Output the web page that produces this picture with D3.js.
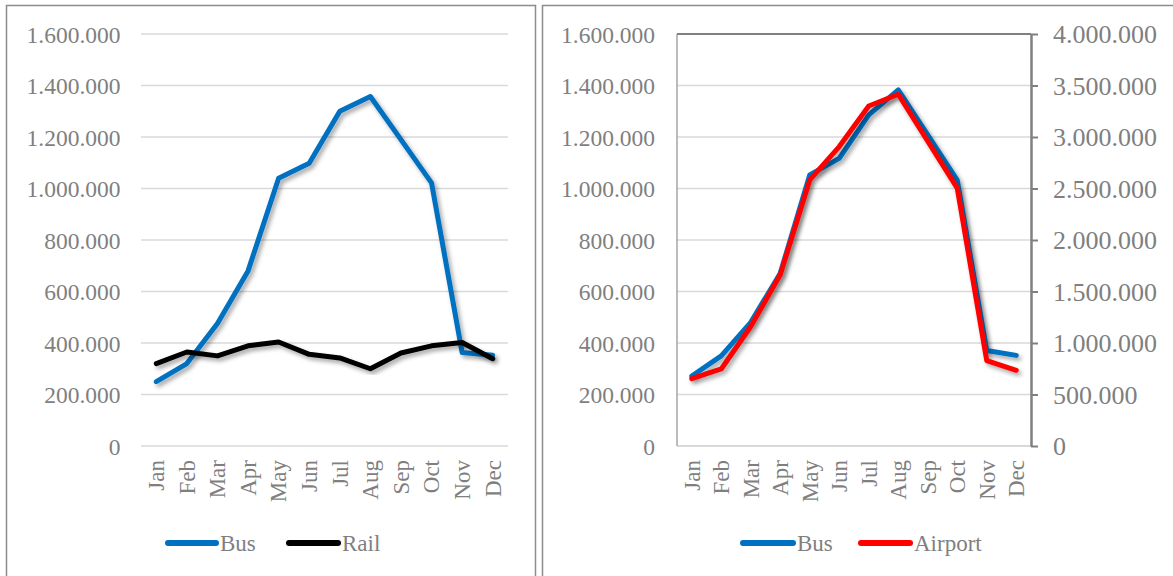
<!DOCTYPE html>
<html>
<head>
<meta charset="utf-8">
<script src="https://cdn.jsdelivr.net/npm/d3@7"></script>
<style>
  html, body { margin: 0; padding: 0; background: #fff; }
  svg { display: block; }
  text { font-family: "Liberation Serif", "Times New Roman", serif; fill: #7f7f7f; }
</style>
</head>
<body>
<svg id="chart" width="1173" height="576"></svg>
<script>
// Monthly passenger figures
const months = ["Jan", "Feb", "Mar", "Apr", "May", "Jun", "Jul", "Aug", "Sep", "Oct", "Nov", "Dec"];

// Left panel: bus vs rail
const busLeft = [250000, 320000, 476000, 680000, 1040000, 1098000, 1300000, 1357000, 1190000, 1022000, 363000, 352000];
const rail = [320000, 365000, 350000, 389000, 404000, 356000, 342000, 300000, 361000, 389000, 402000, 339000];

// Right panel: bus (left axis) vs airport (right axis)
const busRight = [272000, 350000, 480000, 671000, 1053000, 1117000, 1286000, 1383000, 1208000, 1033000, 371000, 352000];
const airport = [654000, 748000, 1160000, 1662000, 2583000, 2907000, 3301000, 3415000, 2959000, 2503000, 830000, 735000];

// Axis ticks
const leftTicks = [0, 200000, 400000, 600000, 800000, 1000000, 1200000, 1400000, 1600000];
const rightTicks = [0, 500000, 1000000, 1500000, 2000000, 2500000, 3000000, 3500000, 4000000];

const COLORS = { bus: "#0070C0", rail: "#000000", airport: "#FF0000" };

const locale = d3.formatLocale({ decimal: ",", thousands: ".", grouping: [3], currency: ["", "€"] });
const fmt = locale.format(",d");

const svg = d3.select("#chart");

// soft drop shadow under the series lines
const defs = svg.append("defs");
const f = defs.append("filter").attr("id", "shadow")
  .attr("x", "-10%").attr("y", "-10%").attr("width", "120%").attr("height", "130%");
f.append("feDropShadow").attr("dx", 2.5).attr("dy", 3).attr("stdDeviation", 2)
  .attr("flood-color", "#000").attr("flood-opacity", 0.35);

// panel frames
svg.append("rect").attr("x", 6.5).attr("y", 5.5).attr("width", 529).attr("height", 590)
  .attr("fill", "none").attr("stroke", "#8c8c8c").attr("stroke-width", 1.5);
svg.append("rect").attr("x", 542.5).attr("y", 5.5).attr("width", 640).attr("height", 590)
  .attr("fill", "none").attr("stroke", "#8c8c8c").attr("stroke-width", 1.5);

const yTop = 34, yBottom = 446;

function drawGrid(g, x0, x1, y, ticks) {
  g.append("g").selectAll("line").data(ticks).join("line")
    .attr("x1", x0).attr("x2", x1)
    .attr("y1", d => y(d)).attr("y2", d => y(d))
    .attr("stroke", "#d9d9d9").attr("stroke-width", 1.5);
}

function drawLeftLabels(g, y, ticks, xRight, size) {
  const ax = d3.axisLeft(y).tickValues(ticks).tickFormat(fmt).tickSize(0).tickPadding(0);
  const a = g.append("g").attr("transform", `translate(${xRight},0)`).call(ax);
  a.select(".domain").remove();
  a.selectAll("text").attr("font-size", size).attr("fill", "#7f7f7f")
    .attr("font-family", "Liberation Serif, Times New Roman, serif").attr("dy", "0.34em");
}

function drawMonthLabels(g, x, yPos) {
  const ax = d3.axisBottom(x).tickSize(0).tickPadding(0);
  const a = g.append("g").attr("transform", `translate(0,${yPos})`).call(ax);
  a.select(".domain").remove();
  a.selectAll("text")
    .attr("font-size", 23).attr("fill", "#7f7f7f")
    .attr("font-family", "Liberation Serif, Times New Roman, serif")
    .attr("text-anchor", "end")
    .attr("transform", "rotate(-90)")
    .attr("x", 0).attr("y", 0).attr("dx", 0).attr("dy", "0.34em");
}

function drawSeries(g, x, y, values, color) {
  const line = d3.line().x((d, i) => x(months[i]) + x.bandwidth() / 2).y(d => y(d));
  g.append("path").datum(values)
    .attr("d", line)
    .attr("fill", "none").attr("stroke", color).attr("stroke-width", 5)
    .attr("stroke-linejoin", "round").attr("stroke-linecap", "round")
    .attr("filter", "url(#shadow)");
}

function drawLegend(g, items, yPos) {
  items.forEach(it => {
    g.append("line").attr("x1", it.x0).attr("x2", it.x1).attr("y1", yPos).attr("y2", yPos)
      .attr("stroke", it.color).attr("stroke-width", 6).attr("stroke-linecap", "round");
    g.append("text").attr("x", it.x1 + 4).attr("y", yPos).attr("dy", "0.34em")
      .attr("font-size", 23).text(it.label);
  });
}

// ---------- Left panel ----------
{
  const g = svg.append("g");
  const x = d3.scaleBand().domain(months).range([141, 508]);
  const y = d3.scaleLinear().domain([0, 1600000]).range([yBottom, yTop]);
  drawGrid(g, 141, 508, y, leftTicks);
  drawLeftLabels(g, y, leftTicks, 120.5, 23.5);
  drawMonthLabels(g, x, 460);
  drawSeries(g, x, y, busLeft, COLORS.bus);
  drawSeries(g, x, y, rail, COLORS.rail);
  drawLegend(g, [
    { x0: 168, x1: 216, color: COLORS.bus, label: "Bus" },
    { x0: 289, x1: 338, color: COLORS.rail, label: "Rail" }
  ], 543);
}

// ---------- Right panel ----------
{
  const g = svg.append("g");
  const px0 = 677, px1 = 1031;
  const x = d3.scaleBand().domain(months).range([px0, px1]);
  const yL = d3.scaleLinear().domain([0, 1600000]).range([yBottom, yTop]);
  const yR = d3.scaleLinear().domain([0, 4000000]).range([yBottom, yTop]);

  drawGrid(g, px0, px1, yL, leftTicks.slice(1, -1));
  // category axis line
  g.append("line").attr("x1", px0).attr("x2", px1).attr("y1", yBottom).attr("y2", yBottom)
    .attr("stroke", "#d9d9d9").attr("stroke-width", 2);
  // plot-area frame: left and top edges
  g.append("line").attr("x1", px0).attr("x2", px0).attr("y1", yTop).attr("y2", yBottom)
    .attr("stroke", "#a6a6a6").attr("stroke-width", 1.5);
  g.append("line").attr("x1", px0).attr("x2", px1).attr("y1", yTop).attr("y2", yTop)
    .attr("stroke", "#808080").attr("stroke-width", 2);

  drawLeftLabels(g, yL, leftTicks, 655, 23.5);

  // secondary value axis
  const axR = d3.axisRight(yR).tickValues(rightTicks).tickFormat(fmt).tickSizeInner(7).tickSizeOuter(0).tickPadding(15);
  const a = g.append("g").attr("transform", `translate(${px1},0)`).call(axR);
  a.select(".domain").attr("stroke", "#808080").attr("stroke-width", 2.5);
  a.selectAll(".tick line").attr("stroke", "#808080").attr("stroke-width", 2);
  a.selectAll("text").attr("font-size", 26).attr("fill", "#7f7f7f")
    .attr("font-family", "Liberation Serif, Times New Roman, serif").attr("dy", "0.34em");

  drawMonthLabels(g, x, 460);
  drawSeries(g, x, yL, busRight, COLORS.bus);
  drawSeries(g, x, yR, airport, COLORS.airport);
  drawLegend(g, [
    { x0: 743, x1: 793, color: COLORS.bus, label: "Bus" },
    { x0: 861, x1: 910, color: COLORS.airport, label: "Airport" }
  ], 543);
}
</script>
</body>
</html>
